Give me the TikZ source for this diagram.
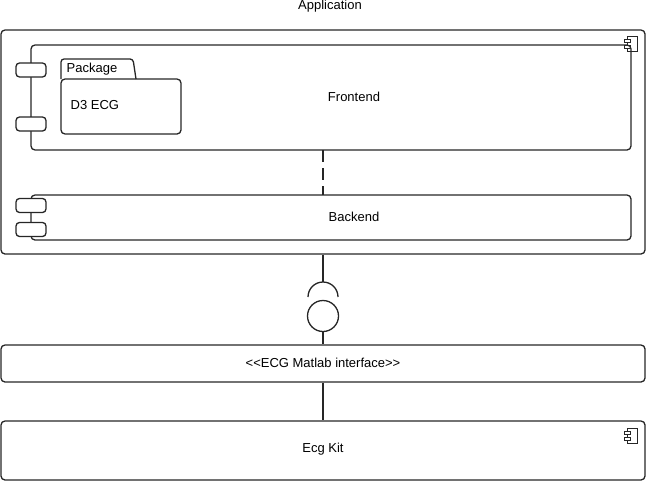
\documentclass[tikz,border=0pt]{standalone}
\usepackage{fontspec}
\setmainfont{Liberation Sans}
\begin{document}
\begin{tikzpicture}[x=1pt,y=-1pt,
  line width=1.3pt,
  box/.style={draw=black!85, rounded corners=4pt, inner sep=0pt},
  port/.style={draw=black!85, fill=white, rounded corners=3.5pt, minimum width=30pt, minimum height=14pt, inner sep=0pt},
  lbl/.style={font=\fontsize{13}{15}\selectfont, text=black, inner sep=0pt},
  link/.style={draw=black!85, line width=1.3pt},
  icon/.pic={
    \draw[line width=0.8pt, black!85] (-5,-7.5) rectangle (5,7.5);
    \draw[line width=0.8pt, black!85, fill=white] (-8,-4.5) rectangle (-2,-1.5);
    \draw[line width=0.8pt, black!85, fill=white] (-8,1.5) rectangle (-2,4.5);
  }]
\useasboundingbox (0,0) rectangle (647,482);

% application container
\node[box, minimum width=644pt, minimum height=224pt] (app) at (323,142) {};
\node[lbl] (applbl) at (330,6) {Application};
\pic at (632,43.5) {icon};

% frontend component
\node[box, minimum width=600pt, minimum height=105pt] (fe) at (331,97.5) {};
\node[lbl] (felbl) at (354,97) {Frontend};
\node[port] (fep1) at (31,70) {};
\node[port] (fep2) at (31,124) {};

% package inside the frontend
\draw[draw=black!85, rounded corners=3pt] (61,79) -- (61,59) -- (133,59) -- (136,79);
\node[box, minimum width=120pt, minimum height=55pt] (pkg) at (121,106.5) {};
\node[lbl, anchor=west] (pkglbl) at (66,69) {Package};
\node[lbl, anchor=west] (d3) at (70,105) {D3 ECG};

% backend component
\node[box, minimum width=600pt, minimum height=45pt] (be) at (331,217.5) {};
\node[lbl] (belbl) at (354,217) {Backend};
\node[port] (bep1) at (31,205.5) {};
\node[port] (bep2) at (31,229.5) {};

% dependency between frontend and backend
\draw[link, dash pattern=on 12pt off 6pt] (323,150) -- (323,195);

% required / provided interface
\coordinate (sock) at (323,297);
\node[draw=black!85, line width=1.3pt, circle, minimum size=31pt, inner sep=0pt] (ball) at (323,316) {};
\draw[link] (app.south -| sock) -- (323,282);
\draw[link] (308,297) arc[start angle=180, end angle=0, radius=15pt];

% interface box
\node[box, minimum width=644pt, minimum height=37pt] (iface) at (323,363.5) {};
\node[lbl] (ifacelbl) at (323,362.5) {{<}{<}ECG Matlab interface{>}{>}};
\draw[link] (ball.south) -- (iface.north -| ball);

% ecg kit component
\node[box, minimum width=644pt, minimum height=59pt] (kit) at (323,450.5) {};
\node[lbl] (kitlbl) at (323,449) {Ecg Kit};
\pic at (632,435.5) {icon};
\draw[link] (iface.south -| ball) -- (kit.north -| ball);
\end{tikzpicture}
\end{document}
